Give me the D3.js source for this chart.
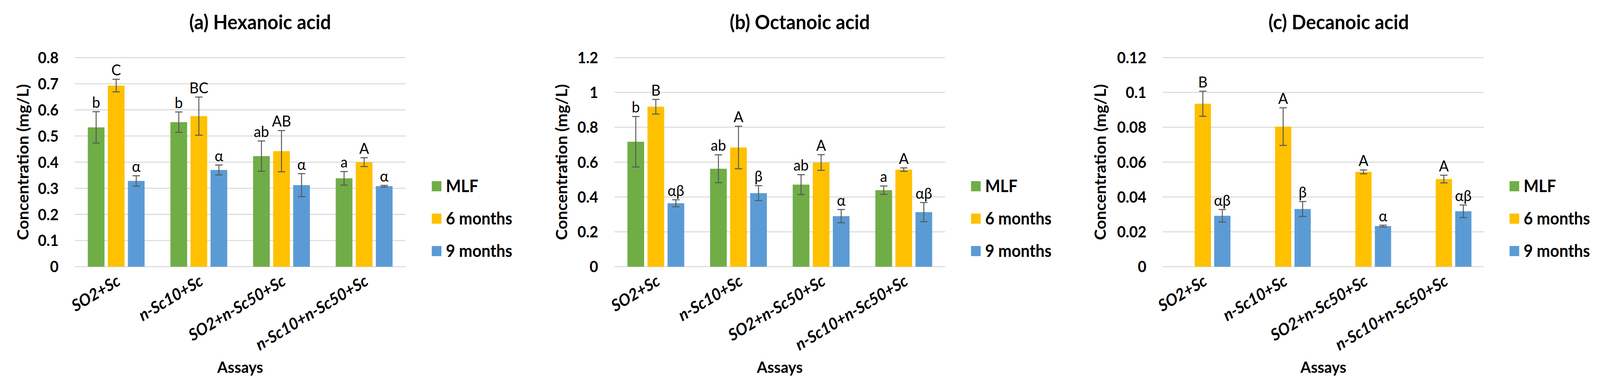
<!DOCTYPE html>
<html>
<head>
<meta charset="utf-8">
<script src="https://cdn.jsdelivr.net/npm/d3@7"></script>
<style>
  html, body { margin: 0; padding: 0; background: #ffffff; overflow: hidden; width: 100vw; height: 100vh; }
  svg { display: block; width: 100vw; height: 100vh; }
  text { font-family: Lato, "Open Sans", "DejaVu Sans", sans-serif; fill: #000; }
</style>
</head>
<body>
<svg id="chart" viewBox="0 0 4317 1004" preserveAspectRatio="none"></svg>
<script>
// ---------------- DATA ----------------
const categories = ["SO2+Sc", "n-Sc10+Sc", "SO2+n-Sc50+Sc", "n-Sc10+n-Sc50+Sc"];
const seriesNames = ["MLF", "6 months", "9 months"];
const seriesColors = ["#70AD47", "#FFC000", "#5B9BD5"];

// (a) Hexanoic acid
const hexTitle = "(a) Hexanoic acid";
const hexMLF = [0.533, 0.553, 0.423, 0.338];
const hexMLFErr = [0.060, 0.039, 0.058, 0.026];
const hexMLFLetters = ["b", "b", "ab", "a"];
const hex6m = [0.693, 0.576, 0.442, 0.400];
const hex6mErr = [0.024, 0.073, 0.079, 0.017];
const hex6mLetters = ["C", "BC", "AB", "A"];
const hex9m = [0.328, 0.370, 0.312, 0.308];
const hex9mErr = [0.020, 0.019, 0.044, 0.003];
const hex9mLetters = ["α", "α", "α", "α"];
const hexTicks = [0, 0.1, 0.2, 0.3, 0.4, 0.5, 0.6, 0.7, 0.8];
const hexTickLabels = ["0", "0.1", "0.2", "0.3", "0.4", "0.5", "0.6", "0.7", "0.8"];

// (b) Octanoic acid
const octTitle = "(b) Octanoic acid";
const octMLF = [0.717, 0.562, 0.471, 0.439];
const octMLFErr = [0.145, 0.080, 0.057, 0.024];
const octMLFLetters = ["b", "ab", "ab", "a"];
const oct6m = [0.918, 0.684, 0.598, 0.557];
const oct6mErr = [0.042, 0.122, 0.045, 0.010];
const oct6mLetters = ["B", "A", "A", "A"];
const oct9m = [0.364, 0.422, 0.290, 0.313];
const oct9mErr = [0.020, 0.043, 0.038, 0.055];
const oct9mLetters = ["αβ", "β", "α", "αβ"];
const octTicks = [0, 0.2, 0.4, 0.6, 0.8, 1.0, 1.2];
const octTickLabels = ["0", "0.2", "0.4", "0.6", "0.8", "1", "1.2"];

// (c) Decanoic acid (no MLF values)
const decTitle = "(c) Decanoic acid";
const decMLF = [null, null, null, null];
const decMLFErr = [null, null, null, null];
const decMLFLetters = ["", "", "", ""];
const dec6m = [0.0935, 0.0804, 0.0544, 0.0503];
const dec6mErr = [0.0072, 0.0108, 0.0011, 0.0022];
const dec6mLetters = ["B", "A", "A", "A"];
const dec9m = [0.0292, 0.0331, 0.0233, 0.0318];
const dec9mErr = [0.0036, 0.0043, 0.0005, 0.0036];
const dec9mLetters = ["αβ", "β", "α", "αβ"];
const decTicks = [0, 0.02, 0.04, 0.06, 0.08, 0.10, 0.12];
const decTickLabels = ["0", "0.02", "0.04", "0.06", "0.08", "0.1", "0.12"];

const yAxisTitle = "Concentration (mg/L)";
const xAxisTitle = "Assays";

// ---------------- LAYOUT ----------------
const panels = [
  { title: hexTitle, titleX: 702, left: 202, right: 1094, max: 0.8, ticks: hexTicks, tickLabels: hexTickLabels,
    axisTitleX: 62, legendX: 1165,
    values: [hexMLF, hex6m, hex9m], errs: [hexMLFErr, hex6mErr, hex9mErr], letters: [hexMLFLetters, hex6mLetters, hex9mLetters] },
  { title: octTitle, titleX: 2158, left: 1658, right: 2550, max: 1.2, ticks: octTicks, tickLabels: octTickLabels,
    axisTitleX: 1515, legendX: 2620,
    values: [octMLF, oct6m, oct9m], errs: [octMLFErr, oct6mErr, oct9mErr], letters: [octMLFLetters, oct6mLetters, oct9mLetters] },
  { title: decTitle, titleX: 3612, left: 3137, right: 4004, max: 0.12, ticks: decTicks, tickLabels: decTickLabels,
    axisTitleX: 2969, legendX: 4073,
    values: [decMLF, dec6m, dec9m], errs: [decMLFErr, dec6mErr, dec9mErr], letters: [decMLFLetters, dec6mLetters, dec9mLetters] }
];

const yTop = 147.5, yBottom = 683;
const svg = d3.select("#chart");

panels.forEach(p => {
  const g = svg.append("g");
  const y = d3.scaleLinear().domain([0, p.max]).range([yBottom, yTop]);
  const x0 = d3.scaleBand().domain(categories).range([p.left, p.right]).paddingInner(0).paddingOuter(0);
  const x1 = d3.scaleBand().domain(seriesNames).range([0, x0.bandwidth()]).paddingInner(0.167).paddingOuter(0.644);

  // gridlines
  g.append("g").selectAll("line").data(p.ticks).join("line")
    .attr("x1", p.left).attr("x2", p.right)
    .attr("y1", d => y(d)).attr("y2", d => y(d))
    .attr("stroke", "#D9D9D9").attr("stroke-width", 2.6);

  // y tick labels
  g.append("g").selectAll("text").data(p.ticks).join("text")
    .attr("x", p.left - 44).attr("y", d => y(d)).attr("dy", "0.36em")
    .attr("text-anchor", "end").attr("font-size", 40).attr("font-weight", 700)
    .text((d, i) => p.tickLabels[i]);

  // bars, error bars, letters
  seriesNames.forEach((s, si) => {
    const rows = categories.map((c, ci) => ({ c, v: p.values[si][ci], e: p.errs[si][ci], l: p.letters[si][ci] }))
      .filter(d => d.v !== null && d.v !== undefined);
    const sg = g.append("g");
    sg.selectAll("rect").data(rows).join("rect")
      .attr("x", d => x0(d.c) + x1(s)).attr("width", x1.bandwidth())
      .attr("y", d => y(d.v)).attr("height", d => y(0) - y(d.v))
      .attr("fill", seriesColors[si]);
    const eg = sg.selectAll("g.err").data(rows).join("g").attr("class", "err");
    const cx = d => x0(d.c) + x1(s) + x1.bandwidth() / 2;
    eg.append("line").attr("x1", cx).attr("x2", cx)
      .attr("y1", d => y(d.v + d.e)).attr("y2", d => y(d.v - d.e))
      .attr("stroke", "#595959").attr("stroke-width", 2.6);
    eg.append("line").attr("x1", d => cx(d) - 10).attr("x2", d => cx(d) + 10)
      .attr("y1", d => y(d.v + d.e)).attr("y2", d => y(d.v + d.e))
      .attr("stroke", "#595959").attr("stroke-width", 2.6);
    eg.append("line").attr("x1", d => cx(d) - 10).attr("x2", d => cx(d) + 10)
      .attr("y1", d => y(d.v - d.e)).attr("y2", d => y(d.v - d.e))
      .attr("stroke", "#595959").attr("stroke-width", 2.6);
    sg.selectAll("text.letter").data(rows).join("text").attr("class", "letter")
      .attr("x", cx).attr("y", d => y(d.v + d.e) - 10)
      .attr("text-anchor", "middle").attr("font-size", 39)
      .text(d => d.l);
  });

  // x category labels
  g.append("g").selectAll("text").data(categories).join("text")
    .attr("transform", d => `translate(${x0(d) + x0.bandwidth() / 2 + 14},${yBottom + 45}) rotate(-30)`)
    .attr("text-anchor", "end").attr("font-size", 42).attr("font-weight", 700).attr("font-style", "italic")
    .text(d => d);

  // axis titles
  g.append("text").attr("transform", `translate(${p.axisTitleX + 15},${(yTop + yBottom) / 2}) rotate(-90)`)
    .attr("text-anchor", "middle").attr("font-size", 42).attr("font-weight", 700)
    .text(yAxisTitle);
  g.append("text").attr("x", (p.left + p.right) / 2).attr("y", 955)
    .attr("text-anchor", "middle").attr("font-size", 41).attr("font-weight", 700)
    .text(xAxisTitle);

  // chart title
  g.append("text").attr("x", p.titleX).attr("y", 75)
    .attr("text-anchor", "middle").attr("font-size", 51).attr("font-weight", 700)
    .text(p.title);

  // legend
  const lg = g.append("g").selectAll("g").data(seriesNames).join("g")
    .attr("transform", (d, i) => `translate(${p.legendX},${477 + i * 83})`);
  lg.append("rect").attr("x", 0).attr("y", -13).attr("width", 26).attr("height", 26)
    .attr("fill", (d, i) => seriesColors[i]);
  lg.append("text").attr("x", 38).attr("y", 0).attr("dy", "0.36em")
    .attr("font-size", 43).attr("font-weight", 700).text(d => d);
});
</script>
</body>
</html>
